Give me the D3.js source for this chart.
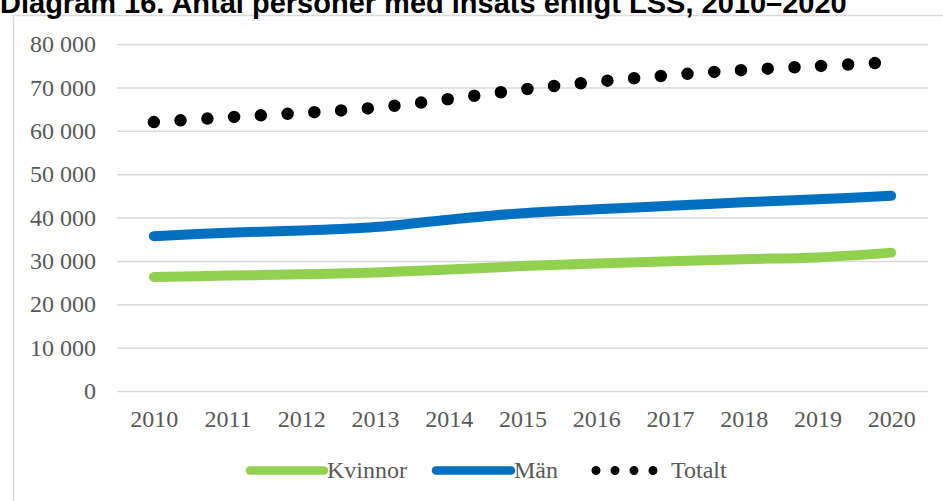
<!DOCTYPE html>
<html>
<head>
<meta charset="utf-8">
<script src="https://cdn.jsdelivr.net/npm/d3@7"></script>
<style>
  body { margin: 0; background: #fff; }
  svg { display: block; }
</style>
</head>
<body>
<svg id="viz" width="943" height="501"></svg>
<script>
// === DATA ===
const years = [2010, 2011, 2012, 2013, 2014, 2015, 2016, 2017, 2018, 2019, 2020];
const kvinnor = [26300, 26600, 26900, 27300, 28000, 28800, 29400, 29900, 30400, 30800, 31900];
const man = [35700, 36500, 37000, 37800, 39500, 41000, 41900, 42700, 43500, 44200, 45000];
const totalt = [62000, 63100, 64100, 65300, 67300, 69500, 71300, 72800, 74000, 74900, 75800];
const yTicks = [0, 10000, 20000, 30000, 40000, 50000, 60000, 70000, 80000];

const series = [
  { name: "Kvinnor", values: kvinnor, color: "#92d050", dotted: false },
  { name: "Män", values: man, color: "#0070c0", dotted: false },
  { name: "Totalt", values: totalt, color: "#000000", dotted: true }
];

const svg = d3.select("#viz");
const textColor = "#595959";
const serif = "'Liberation Serif', 'Times New Roman', serif";

// frame
svg.append("rect")
  .attr("x", 13.5).attr("y", 15.5)
  .attr("width", 1000).attr("height", 600)
  .attr("fill", "none")
  .attr("stroke", "#d9d9d9")
  .attr("stroke-width", 1.5);

// title (cut at the top, like the source)
svg.append("text")
  .attr("x", 0).attr("y", 13)
  .attr("font-family", "'Liberation Sans', Arial, sans-serif")
  .attr("font-weight", "bold")
  .attr("font-size", 29)
  .attr("fill", "#000")
  .text("Diagram 16. Antal personer med insats enligt LSS, 2010–2020");

const plotLeft = 117, plotRight = 928;
const x = d3.scalePoint().domain(years).range([plotLeft, plotRight]).padding(0.5);
const y = d3.scaleLinear().domain([0, 80000]).range([391, 44]);

const fmt = v => d3.format(",")(v).replace(/,/g, " ");

// y axis + grid
const yAxis = d3.axisLeft(y).tickValues(yTicks).tickSize(-(plotRight - plotLeft)).tickPadding(21).tickFormat(fmt);
const gy = svg.append("g").attr("transform", `translate(${plotLeft},0)`).call(yAxis);
gy.select(".domain").remove();
gy.selectAll(".tick line").attr("stroke", "#d9d9d9").attr("stroke-width", 1.5);
gy.selectAll(".tick text")
  .attr("font-family", serif).attr("font-size", 24).attr("fill", textColor);

// x axis labels
const xAxis = d3.axisBottom(x).tickSize(0).tickPadding(19);
const gx = svg.append("g").attr("transform", `translate(0,${y(0)})`).call(xAxis);
gx.select(".domain").remove();
gx.selectAll(".tick text")
  .attr("font-family", serif).attr("font-size", 24).attr("fill", textColor);

// lines
const line = d3.line()
  .x((d, i) => x(years[i]))
  .y(d => y(d))
  .curve(d3.curveCatmullRom.alpha(0.5));

series.forEach(s => {
  const p = svg.append("path")
    .attr("d", line(s.values))
    .attr("fill", "none")
    .attr("stroke", s.color)
    .attr("stroke-linecap", "round")
    .attr("stroke-linejoin", "round");
  if (s.dotted) {
    p.attr("stroke-width", 12.5).attr("stroke-dasharray", "0 26.8");
  } else {
    p.attr("stroke-width", 10);
  }
});

// legend
const legendItems = [
  { s: series[0], x0: 250, x1: 324, tx: 327 },
  { s: series[1], x0: 436, x1: 511, tx: 514 },
  { s: series[2], x0: 596, x1: 655, tx: 671 }
];
const ly = 470.5;
legendItems.forEach(l => {
  const p = svg.append("line")
    .attr("x1", l.x0).attr("x2", l.x1)
    .attr("y1", ly).attr("y2", ly)
    .attr("stroke", l.s.color)
    .attr("stroke-linecap", "round");
  if (l.s.dotted) {
    p.attr("stroke-width", 9).attr("stroke-dasharray", "0 19");
  } else {
    p.attr("stroke-width", 8.5);
  }
  svg.append("text")
    .attr("x", l.tx).attr("y", 478)
    .attr("font-family", serif).attr("font-size", 24)
    .attr("fill", textColor)
    .text(l.s.name);
});
</script>
</body>
</html>
